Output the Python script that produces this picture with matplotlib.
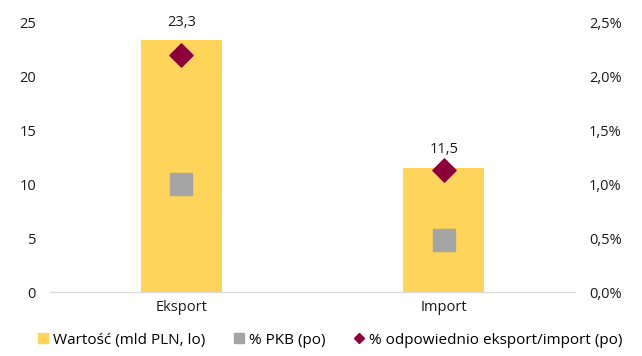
import numpy as np
import matplotlib.pyplot as plt
from matplotlib.lines import Line2D

plt.rcParams['font.family'] = ['Open Sans', 'DejaVu Sans']

categories = ['Eksport', 'Import']
values = [23.3, 11.5]
pct_gdp = [1.0, 0.48]
pct_trade = [2.19, 1.13]
value_labels = ['23,3', '11,5']

fig = plt.figure(figsize=(6.42, 3.56), dpi=100)
ax = fig.add_axes([50 / 642, 1 - 292 / 356, 525 / 642, 270 / 356])
ax2 = ax.twinx()

x = np.arange(len(categories))
ax.bar(x, values, width=0.31, color='#FFD45A', zorder=1)
for xi, v, t in zip(x, values, value_labels):
    ax.text(xi, v + 1.0, t, ha='center', va='bottom', fontsize=10.5, color='#1a1a1a')

ax2.scatter(x, pct_gdp, marker='s', s=240, color='#A5A5A5', zorder=3)
ax2.scatter(x, pct_trade, marker='D', s=140, color='#8B0038', zorder=3)

ax.set_xlim(-0.5, 1.5)
ax.set_ylim(0, 25)
ax.set_yticks(range(0, 26, 5))
ax2.set_ylim(0, 2.5)
ax2.set_yticks(np.arange(0, 2.51, 0.5))
ax2.set_yticklabels([('%.1f%%' % t).replace('.', ',') for t in np.arange(0, 2.51, 0.5)])
ax.set_xticks(x)
ax.set_xticklabels(categories)

for a in (ax, ax2):
    for s in ['top', 'left', 'right']:
        a.spines[s].set_visible(False)
    a.spines['bottom'].set_color('#D9D9D9')
    a.tick_params(length=0, labelsize=10.5, colors='#1a1a1a', pad=10)
ax.tick_params(axis='x', pad=6)
ax2.set_zorder(ax.get_zorder() + 1)
ax2.patch.set_visible(False)

handles = [
    Line2D([], [], marker='s', ls='', ms=7.5, color='#FFD45A'),
    Line2D([], [], marker='s', ls='', ms=7.5, color='#A5A5A5'),
    Line2D([], [], marker='D', ls='', ms=5, color='#8B0038'),
]
labels = ['Wartość (mld PLN, lo)', '% PKB (po)', '% odpowiednio eksport/import (po)']
fig.legend(handles, labels, loc='lower center', bbox_to_anchor=(0.515, -0.015), ncol=3,
           frameon=False, fontsize=11, handlelength=0.6, handletextpad=0.35,
           columnspacing=1.9)

fig.savefig('out.png', dpi=100)
